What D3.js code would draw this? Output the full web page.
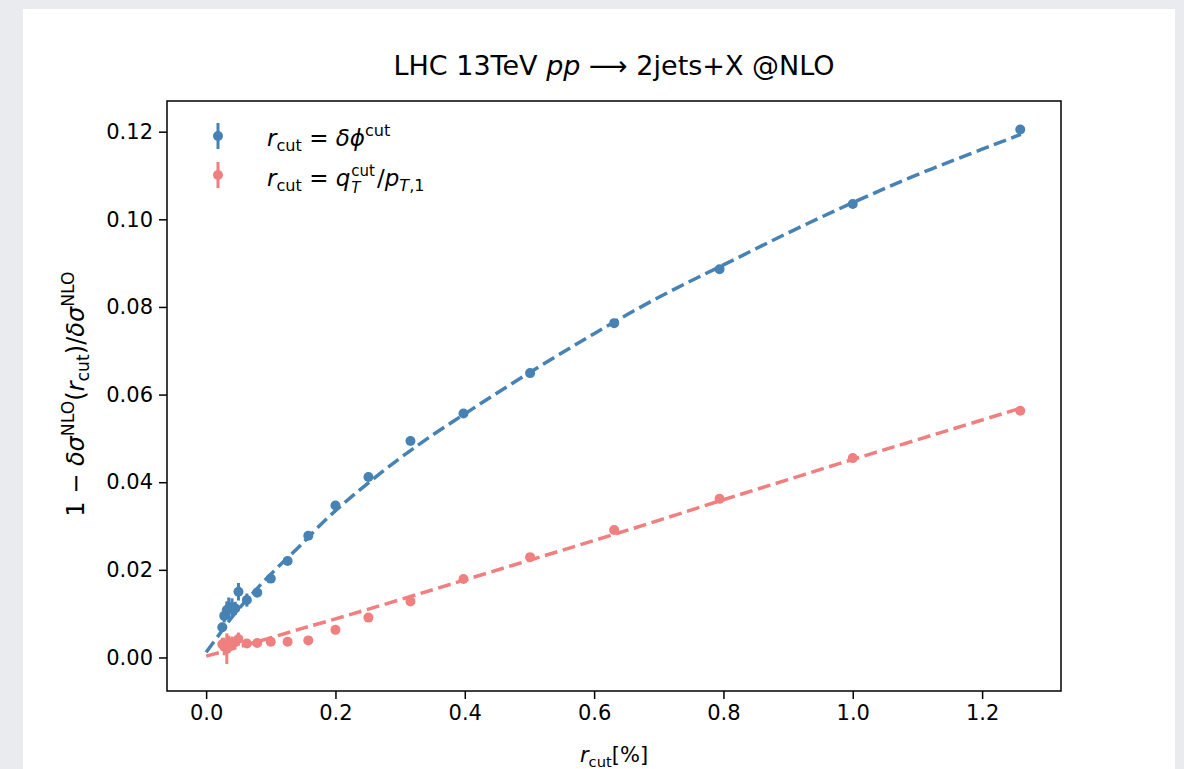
<!DOCTYPE html>
<html lang="en">
<head>
<meta charset="UTF-8">
<title>LHC 13TeV pp → 2jets+X @NLO</title>
<script src="https://d3js.org/d3.v7.min.js"></script>
<style>
    body { margin: 0; background: #e9ebef; }
    svg { display: block; }
    text { font-family: "DejaVu Sans", sans-serif; fill: #000; }
    .tick text { font-size: 21px; }
</style>
</head>
<body>
<svg id="chart" width="1184" height="769"></svg>
<script>
// r_cut values [%]
const rcut = [0.025, 0.028, 0.032, 0.035, 0.040, 0.045, 0.050, 0.063, 0.079, 0.100,
              0.126, 0.158, 0.200, 0.251, 0.316, 0.398, 0.501, 0.631, 0.794, 1.000, 1.259];

// r_cut = delta phi^cut
const phiVal = [0.0069, 0.0095, 0.0108, 0.0112, 0.0115, 0.0112, 0.0150, 0.0131, 0.0148, 0.0180,
                0.0220, 0.0278, 0.0347, 0.0412, 0.0494, 0.0557, 0.0649, 0.0763, 0.0886, 0.1035, 0.1205];
const phiErr = [0.0010, 0.0015, 0.0020, 0.0025, 0.0020, 0.0015, 0.0020, 0.0015, 0.0010, 0.0010,
                0.0007, 0.0005, 0.0005, 0.0005, 0.0004, 0.0004, 0.0004, 0.0004, 0.0004, 0.0004, 0.0005];

// r_cut = q_T^cut / p_T,1
const qtVal = [0.0030, 0.0025, 0.0020, 0.0030, 0.0033, 0.0035, 0.0042, 0.0032, 0.0033, 0.0036,
               0.0036, 0.0039, 0.0063, 0.0091, 0.0128, 0.0179, 0.0229, 0.0291, 0.0362, 0.0455, 0.0563];
const qtErr = [0.0015, 0.0020, 0.0035, 0.0020, 0.0015, 0.0010, 0.0015, 0.0010, 0.0008, 0.0007,
               0.0005, 0.0004, 0.0004, 0.0004, 0.0004, 0.0004, 0.0004, 0.0004, 0.0004, 0.0004, 0.0008];

// dashed fit curves
const fitX   = [0, 0.025, 0.05, 0.1, 0.15, 0.2, 0.3, 0.4, 0.5, 0.6, 0.7, 0.8, 0.9, 1.0, 1.1, 1.2, 1.26];
const fitPhi = [0.0012, 0.0062, 0.0110, 0.0190, 0.0262, 0.0335, 0.0455, 0.0556, 0.0650, 0.0739,
                0.0822, 0.0896, 0.0969, 0.1038, 0.1102, 0.1160, 0.1194];
const fitQt  = [0.0003, 0.0013, 0.0024, 0.0045, 0.0067, 0.0088, 0.0132, 0.0177, 0.0222, 0.0267,
                0.0313, 0.0360, 0.0406, 0.0452, 0.0497, 0.0542, 0.0569];

const xTicks = [0.0, 0.2, 0.4, 0.6, 0.8, 1.0, 1.2];
const yTicks = [0.00, 0.02, 0.04, 0.06, 0.08, 0.10, 0.12];

const blue = "#4682b4", red = "#f08080";

const svg = d3.select("#chart");
svg.append("rect").attr("x", 23).attr("y", 9).attr("width", 1152).attr("height", 770).attr("fill", "#fff");

const L = 167, R = 1061, T = 101, B = 691;
const x = d3.scaleLinear().domain([-0.0605, 1.322]).range([L, R]);
const y = d3.scaleLinear().domain([-0.00765, 0.127]).range([B, T]);

// math-ish text: parts = [text, style, pos] ; style 'i' italic, pos 'sup'|'sub'
function mathText(g, parts, size, scale) {
    scale = scale || 0.7;
    const t = g.append("text").style("font-size", size + "px");
    let shift = 0;
    parts.forEach(p => {
        const [txt, st, pos] = p;
        let target = 0, fs = size;
        if (pos === "sup") { target = -0.42 * size; fs = scale * size; }
        if (pos === "sub") { target = 0.22 * size; fs = scale * size; }
        const ts = t.append("tspan")
            .attr("dy", target - shift)
            .style("font-size", fs + "px")
            .style("font-style", st === "i" ? "italic" : "normal")
            .text(txt);
        shift = target;
        p.node = ts.node();
    });
    return t;
}

const plot = svg.append("g");

// fits
const line = d3.line().x(d => x(d[0])).y(d => y(d[1])).curve(d3.curveNatural);
plot.append("path").datum(fitX.map((v, i) => [v, fitPhi[i]]))
    .attr("d", line).attr("fill", "none").attr("stroke", blue)
    .attr("stroke-width", 3.5).attr("stroke-dasharray", "13,5.6");
plot.append("path").datum(fitX.map((v, i) => [v, fitQt[i]]))
    .attr("d", line).attr("fill", "none").attr("stroke", red)
    .attr("stroke-width", 3.5).attr("stroke-dasharray", "13,5.6");

function drawSeries(vals, errs, color) {
    const g = plot.append("g");
    const pts = rcut.map((r, i) => ({ r: r, v: vals[i], e: errs[i] }));
    g.selectAll("line").data(pts).enter().append("line")
        .attr("x1", d => x(d.r)).attr("x2", d => x(d.r))
        .attr("y1", d => y(d.v - d.e)).attr("y2", d => y(d.v + d.e))
        .attr("stroke", color).attr("stroke-width", 3);
    g.selectAll("circle").data(pts).enter().append("circle")
        .attr("cx", d => x(d.r)).attr("cy", d => y(d.v)).attr("r", 5)
        .attr("fill", color);
}
drawSeries(phiVal, phiErr, blue);
drawSeries(qtVal, qtErr, red);

// frame and axes
svg.append("rect").attr("x", L).attr("y", T).attr("width", R - L).attr("height", B - T)
    .attr("fill", "none").attr("stroke", "#000").attr("stroke-width", 1.5);

const xAxis = svg.append("g").attr("transform", `translate(0,${B})`)
    .call(d3.axisBottom(x).tickValues(xTicks).tickFormat(d3.format(".1f")).tickSize(8).tickPadding(6));
const yAxis = svg.append("g").attr("transform", `translate(${L},0)`)
    .call(d3.axisLeft(y).tickValues(yTicks).tickFormat(d3.format(".2f")).tickSize(8).tickPadding(6));
[xAxis, yAxis].forEach(a => {
    a.select(".domain").remove();
    a.selectAll(".tick line").attr("stroke-width", 1.5);
    a.selectAll(".tick text").style("font-family", "DejaVu Sans");
});

// title
mathText(svg.append("g").attr("transform", "translate(614,75)"),
    [["LHC 13TeV ", "n"], ["pp", "i"], [" ⟶ 2jets+X @NLO", "n"]], 27)
    .attr("text-anchor", "middle");

// x label
mathText(svg.append("g").attr("transform", "translate(614,762)"),
    [["r", "i"], ["cut", "n", "sub"], ["[%]", "n"]], 21)
    .attr("text-anchor", "middle");

// y label
mathText(svg.append("g").attr("transform", "translate(84,394) rotate(-90)"),
    [["1 − ", "n"], ["δσ", "i"], ["NLO", "n", "sup"], ["(", "n"], ["r", "i"], ["cut", "n", "sub"],
     [")/", "n"], ["δσ", "i"], ["NLO", "n", "sup"]], 24, 0.72)
    .attr("text-anchor", "middle");

// legend
const leg = svg.append("g");
[[136, blue], [175, red]].forEach(([ly, c]) => {
    leg.append("line").attr("x1", 218).attr("x2", 218).attr("y1", ly - 13).attr("y2", ly + 13)
        .attr("stroke", c).attr("stroke-width", 3);
    leg.append("circle").attr("cx", 218).attr("cy", ly).attr("r", 5).attr("fill", c);
});
mathText(leg.append("g").attr("transform", "translate(267,146)"),
    [["r", "i"], ["cut", "n", "sub"], [" = ", "n"], ["δϕ", "i"], ["cut", "n", "sup"]], 23);

// second entry: q_T^cut with stacked super/subscript, built from separate pieces
const g2 = leg.append("g").attr("transform", "translate(267,186)");
const a = mathText(g2, [["r", "i"], ["cut", "n", "sub"], [" = ", "n"], ["q", "i"]], 23);
const aw = a.node().getComputedTextLength();
const sup = g2.append("text").attr("x", aw + 1).attr("y", -10)
    .style("font-size", "15px").text("cut");
const sub = g2.append("text").attr("x", aw + 1).attr("y", 7)
    .style("font-size", "15px").style("font-style", "italic").text("T");
const sw = sup.node().getComputedTextLength();
mathText(g2.append("g").attr("transform", `translate(${aw + sw + 3},0)`),
    [["/", "n"], ["p", "i"], ["T", "i", "sub"], [",1", "n", "sub"]], 23);
</script>
</body>
</html>
